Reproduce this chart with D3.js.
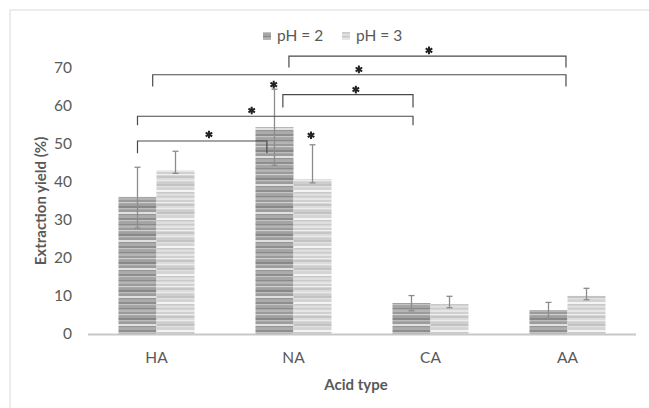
<!DOCTYPE html>
<html>
<head>
<meta charset="utf-8">
<script src="https://cdn.jsdelivr.net/npm/d3@7"></script>
<style>
  body { margin: 0; background: #fff; }
  text { font-family: Lato, "Open Sans", sans-serif; }
</style>
</head>
<body>
<div id="grafico"></div>
<script>
// dados
const acidos = ["HA", "NA", "CA", "AA"];
const series = ["pH = 2", "pH = 3"];
const valoresPH2 = [36, 54.3, 8.1, 6.3];
const valoresPH3 = [43, 40.7, 7.9, 10];
const erroMaisPH2 = [7.8, 10, 2, 2];
const erroMenosPH2 = [8.2, 10, 2, 2.2];
const erroMaisPH3 = [5, 9, 2, 2];
const erroMenosPH3 = [0.8, 1, 1, 1];
const ticksY = [0, 10, 20, 30, 40, 50, 60, 70];

// colchetes de significancia: [acido, fracao] -> [acido, fracao], altura
const colchetes = [
  { de: ["HA", 0.25], ate: ["NA", 0.15], y: 50.7, perna: 47.5 },
  { de: ["HA", 0.25], ate: ["CA", 0.27], y: 57.2, perna: 54.8 },
  { de: ["NA", 0.36], ate: ["CA", 0.27], y: 62.9, perna: 59.5 },
  { de: ["HA", 0.45], ate: ["AA", 0.48], y: 68.1, perna: 65.0 },
  { de: ["NA", 0.44], ate: ["AA", 0.48], y: 73.0, perna: 70.0 }
];
const estrelas = [
  ["HA", 1.19, 52.4], ["NA", -0.05, 58.7], ["NA", 1.32, 64.2],
  ["NA", 1.36, 69.5], ["CA", 0.48, 74.5], ["NA", 0.24, 65.5], ["NA", 0.73, 52.2]
];

const largura = 649, altura = 408;
const cinzaTexto = "#595959";

const svg = d3.select("#grafico").append("svg")
  .attr("width", largura).attr("height", altura);

// borda do grafico
svg.append("rect")
  .attr("x", 10).attr("y", 10).attr("width", 680).attr("height", 440)
  .attr("fill", "none").attr("stroke", "#d9d9d9").attr("stroke-width", 1);

// texturas listradas das barras
const defs = svg.append("defs");
function listras(id, fundo, cores) {
  const p = defs.append("pattern").attr("id", id)
    .attr("patternUnits", "userSpaceOnUse")
    .attr("width", 10).attr("height", cores.length * 2);
  p.append("rect").attr("width", 10).attr("height", cores.length * 2).attr("fill", fundo);
  cores.forEach((c, i) => {
    p.append("rect").attr("x", 0).attr("y", i * 2).attr("width", 10)
      .attr("height", i % 3 == 0 ? 1 : 2).attr("fill", c);
  });
}
listras("escuro", "#a8a8a8", ["#8a8a8a", "#b4b4b4", "#9a9a9a", "#d0d0d0", "#a0a0a0", "#888888",
  "#bcbcbc", "#9c9c9c", "#e0e0e0", "#969696", "#acacac", "#8e8e8e", "#c4c4c4", "#a4a4a4"]);
listras("claro", "#d6d6d6", ["#cacaca", "#e6e6e6", "#d0d0d0", "#f0f0f0", "#c6c6c6", "#dcdcdc",
  "#ececec", "#cecece", "#c2c2c2", "#e2e2e2", "#d4d4d4", "#f4f4f4", "#c8c8c8", "#dedede"]);

const x = d3.scaleBand().domain(acidos).range([88, 636])
  .paddingInner(0.445).paddingOuter(0.2225);
const xSub = d3.scaleBand().domain(series).range([0, x.bandwidth()]);
const y = d3.scaleLinear().domain([0, 70]).range([334, 67.5]);

const pos = (a, f) => x(a) + f * x.bandwidth();

// eixo y (somente rotulos)
const eixoY = svg.append("g").attr("transform", "translate(72,0)")
  .call(d3.axisLeft(y).tickValues(ticksY).tickSize(0).tickPadding(0));
eixoY.select(".domain").remove();
eixoY.selectAll("text").attr("fill", cinzaTexto).style("font-size", "15.5px")
  .style("font-family", "Lato");

// dados combinados
const linhas = acidos.map((a, i) => ({
  acido: a,
  barras: [
    { serie: series[0], v: valoresPH2[i], mais: erroMaisPH2[i], menos: erroMenosPH2[i], fill: "url(#escuro)" },
    { serie: series[1], v: valoresPH3[i], mais: erroMaisPH3[i], menos: erroMenosPH3[i], fill: "url(#claro)" }
  ]
}));

const grupos = svg.selectAll(".grupo").data(linhas).enter().append("g")
  .attr("class", "grupo")
  .attr("transform", d => `translate(${x(d.acido)},0)`);

grupos.selectAll("rect").data(d => d.barras).enter().append("rect")
  .attr("x", d => xSub(d.serie))
  .attr("width", xSub.bandwidth())
  .attr("y", d => y(d.v))
  .attr("height", d => y(0) - y(d.v))
  .attr("fill", d => d.fill);

// linha do eixo x
svg.append("line")
  .attr("x1", 88).attr("x2", 636).attr("y1", y(0) + 0.5).attr("y2", y(0) + 0.5)
  .attr("stroke", "#c8c8c8").attr("stroke-width", 2);

// barras de erro
const erros = grupos.selectAll(".erro").data(d => d.barras).enter().append("g")
  .attr("class", "erro")
  .attr("transform", d => `translate(${xSub(d.serie) + xSub.bandwidth() / 2},0)`)
  .attr("stroke", "#8c8c8c").attr("stroke-width", 1.3);
erros.append("line").attr("y1", d => y(d.v + d.mais)).attr("y2", d => y(d.v - d.menos));
erros.append("line").attr("x1", -3).attr("x2", 3)
  .attr("y1", d => y(d.v + d.mais)).attr("y2", d => y(d.v + d.mais));
erros.append("line").attr("x1", -3).attr("x2", 3)
  .attr("y1", d => y(d.v - d.menos)).attr("y2", d => y(d.v - d.menos));

// rotulos do eixo x
const eixoX = svg.append("g").attr("transform", `translate(0,${y(0) + 13})`)
  .call(d3.axisBottom(x).tickSize(0).tickPadding(5));
eixoX.select(".domain").remove();
eixoX.selectAll("text").attr("fill", cinzaTexto).style("font-size", "15.5px")
  .style("font-family", "Lato");

// colchetes
svg.selectAll(".colchete").data(colchetes).enter().append("path")
  .attr("class", "colchete")
  .attr("d", d => {
    const x1 = pos(d.de[0], d.de[1]), x2 = pos(d.ate[0], d.ate[1]);
    return `M${x1},${y(d.perna)}V${y(d.y)}H${x2}V${y(d.perna)}`;
  })
  .attr("fill", "none").attr("stroke", "#4a4a4a").attr("stroke-width", 1.2);

// estrelas
svg.selectAll(".estrela").data(estrelas).enter().append("path")
  .attr("class", "estrela")
  .attr("transform", d => `translate(${pos(d[0], d[1])},${y(d[2])})`)
  .attr("d", d3.symbol(d3.symbolAsterisk, 40))
  .attr("fill", "none").attr("stroke", "#222").attr("stroke-width", 2);

// legenda
const legenda = svg.append("g").attr("transform", "translate(263,36)");
const itens = legenda.selectAll("g").data(series).enter().append("g")
  .attr("transform", (d, i) => `translate(${i * 79},0)`);
itens.append("rect").attr("x", 0).attr("y", -4).attr("width", 8).attr("height", 8)
  .attr("fill", (d, i) => i == 0 ? "url(#escuro)" : "url(#claro)");
itens.append("text").attr("x", 14).attr("y", 5).text(d => d)
  .attr("fill", cinzaTexto).style("font-size", "15.5px");

// titulos dos eixos
svg.append("text").attr("x", 356).attr("y", 390).attr("text-anchor", "middle")
  .attr("fill", cinzaTexto).style("font-size", "15px").style("font-weight", "bold")
  .text("Acid type");
svg.append("text").attr("transform", "translate(46,201) rotate(-90)")
  .attr("text-anchor", "middle")
  .attr("fill", cinzaTexto).style("font-size", "15px").style("font-weight", "bold")
  .text("Extraction yield (%)");
</script>
</body>
</html>
